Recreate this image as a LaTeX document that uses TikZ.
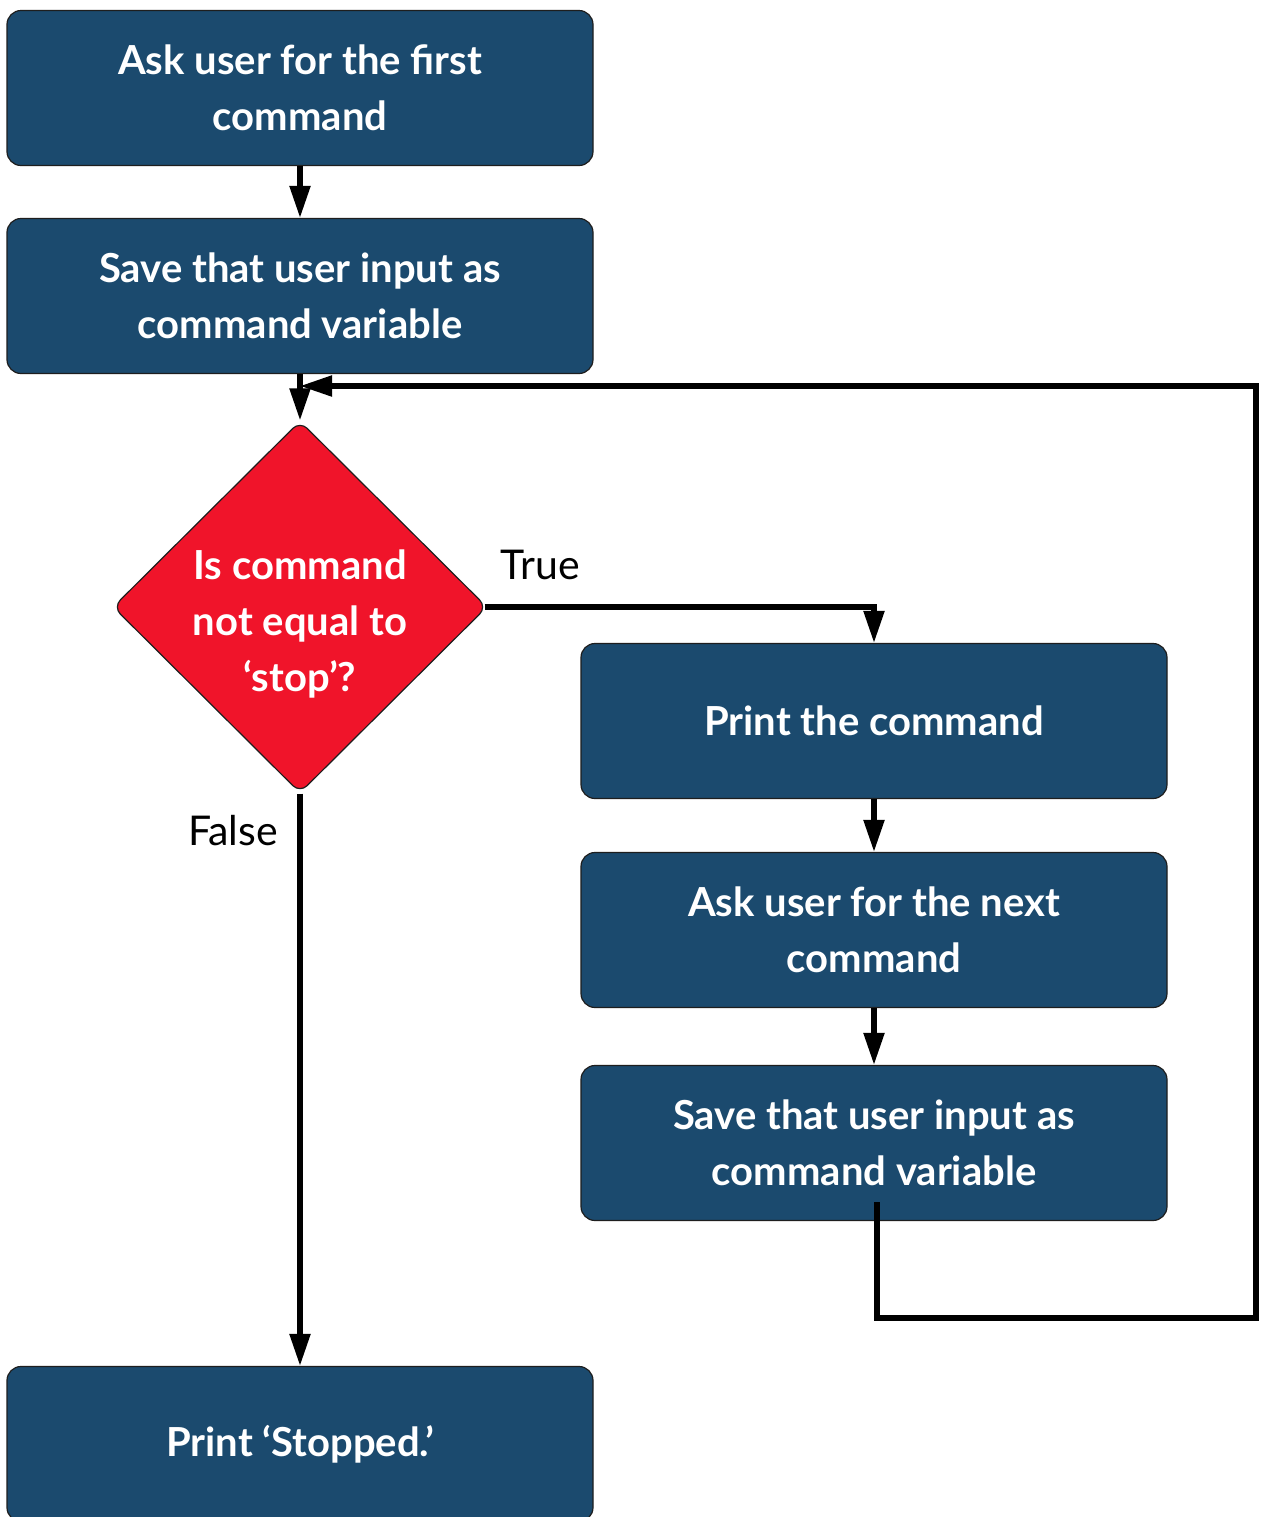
\documentclass[tikz,border=0pt]{standalone}
\usepackage{fontspec}
\setmainfont{Lato}
\usetikzlibrary{shapes.geometric,arrows.meta}
\definecolor{boxblue}{RGB}{27,74,110}
\definecolor{decred}{RGB}{240,20,42}
\definecolor{edgedark}{RGB}{30,30,30}
\begin{document}
\begin{tikzpicture}[x=0.5pt,y=-0.5pt,
  stepbox/.style={draw=edgedark,line width=0.6pt,fill=boxblue,rounded corners=7pt,
    minimum width=293pt,minimum height=77.5pt,inner sep=0pt,align=center,
    text=white,font=\fontsize{20}{28}\selectfont\bfseries},
  decision/.style={diamond,draw=edgedark,line width=0.6pt,fill=decred,rounded corners=5pt,
    minimum width=187pt,minimum height=186pt,inner sep=0pt},
  dectext/.style={align=center,inner sep=0pt,text=white,font=\fontsize{20}{28}\selectfont\bfseries},
  flow/.style={line width=2.6pt,-{Triangle[length=16pt,width=10pt]}},
  lbl/.style={font=\fontsize{20.5}{24}\selectfont,text=black,inner sep=0pt}]
\clip (0,0) rectangle (1260,1517);
\fill[white] (0,0) rectangle (1260,1517);
\node[stepbox] (b1) at (300,88) {Ask user for the first\\command};
\node[stepbox] (b2) at (300,296) {Save that user input as\\command variable};
\node[decision] (dia) at (300,607) {};
\node[dectext] (diatext) at (300,624) {Is command\\not equal to\\‘stop’?};
\node[stepbox] (b3) at (874,721) {Print the command};
\node[stepbox] (b4) at (874,930) {Ask user for the next\\command};
\node[stepbox] (b5) at (874,1143) {Save that user input as\\command variable};
\node[stepbox] (b6) at (300,1444) {Print ‘Stopped.’};
\node[lbl] (ltrue) at (540,565) {True};
\node[lbl] (lfalse) at (233,831) {False};
\coordinate (ls) at (877,1202);
\coordinate (l1) at (877,1318);
\coordinate (l2) at (1256,1318);
\coordinate (l3) at (1256,386);
\coordinate (lj) at (300,386);
\draw[flow] (b1) -- (b2);
\draw[flow] (b2) -- (dia);
\draw[flow] ([xshift=-1.5pt]dia.east) -| (b3.north);
\draw[flow] (b3) -- (b4);
\draw[flow] (b4) -- (b5);
\draw[flow] (dia) -- (b6);
\draw[flow,line join=miter] (ls) -- (l1) -- (l2) -- (l3) -- (lj);
\end{tikzpicture}
\end{document}
